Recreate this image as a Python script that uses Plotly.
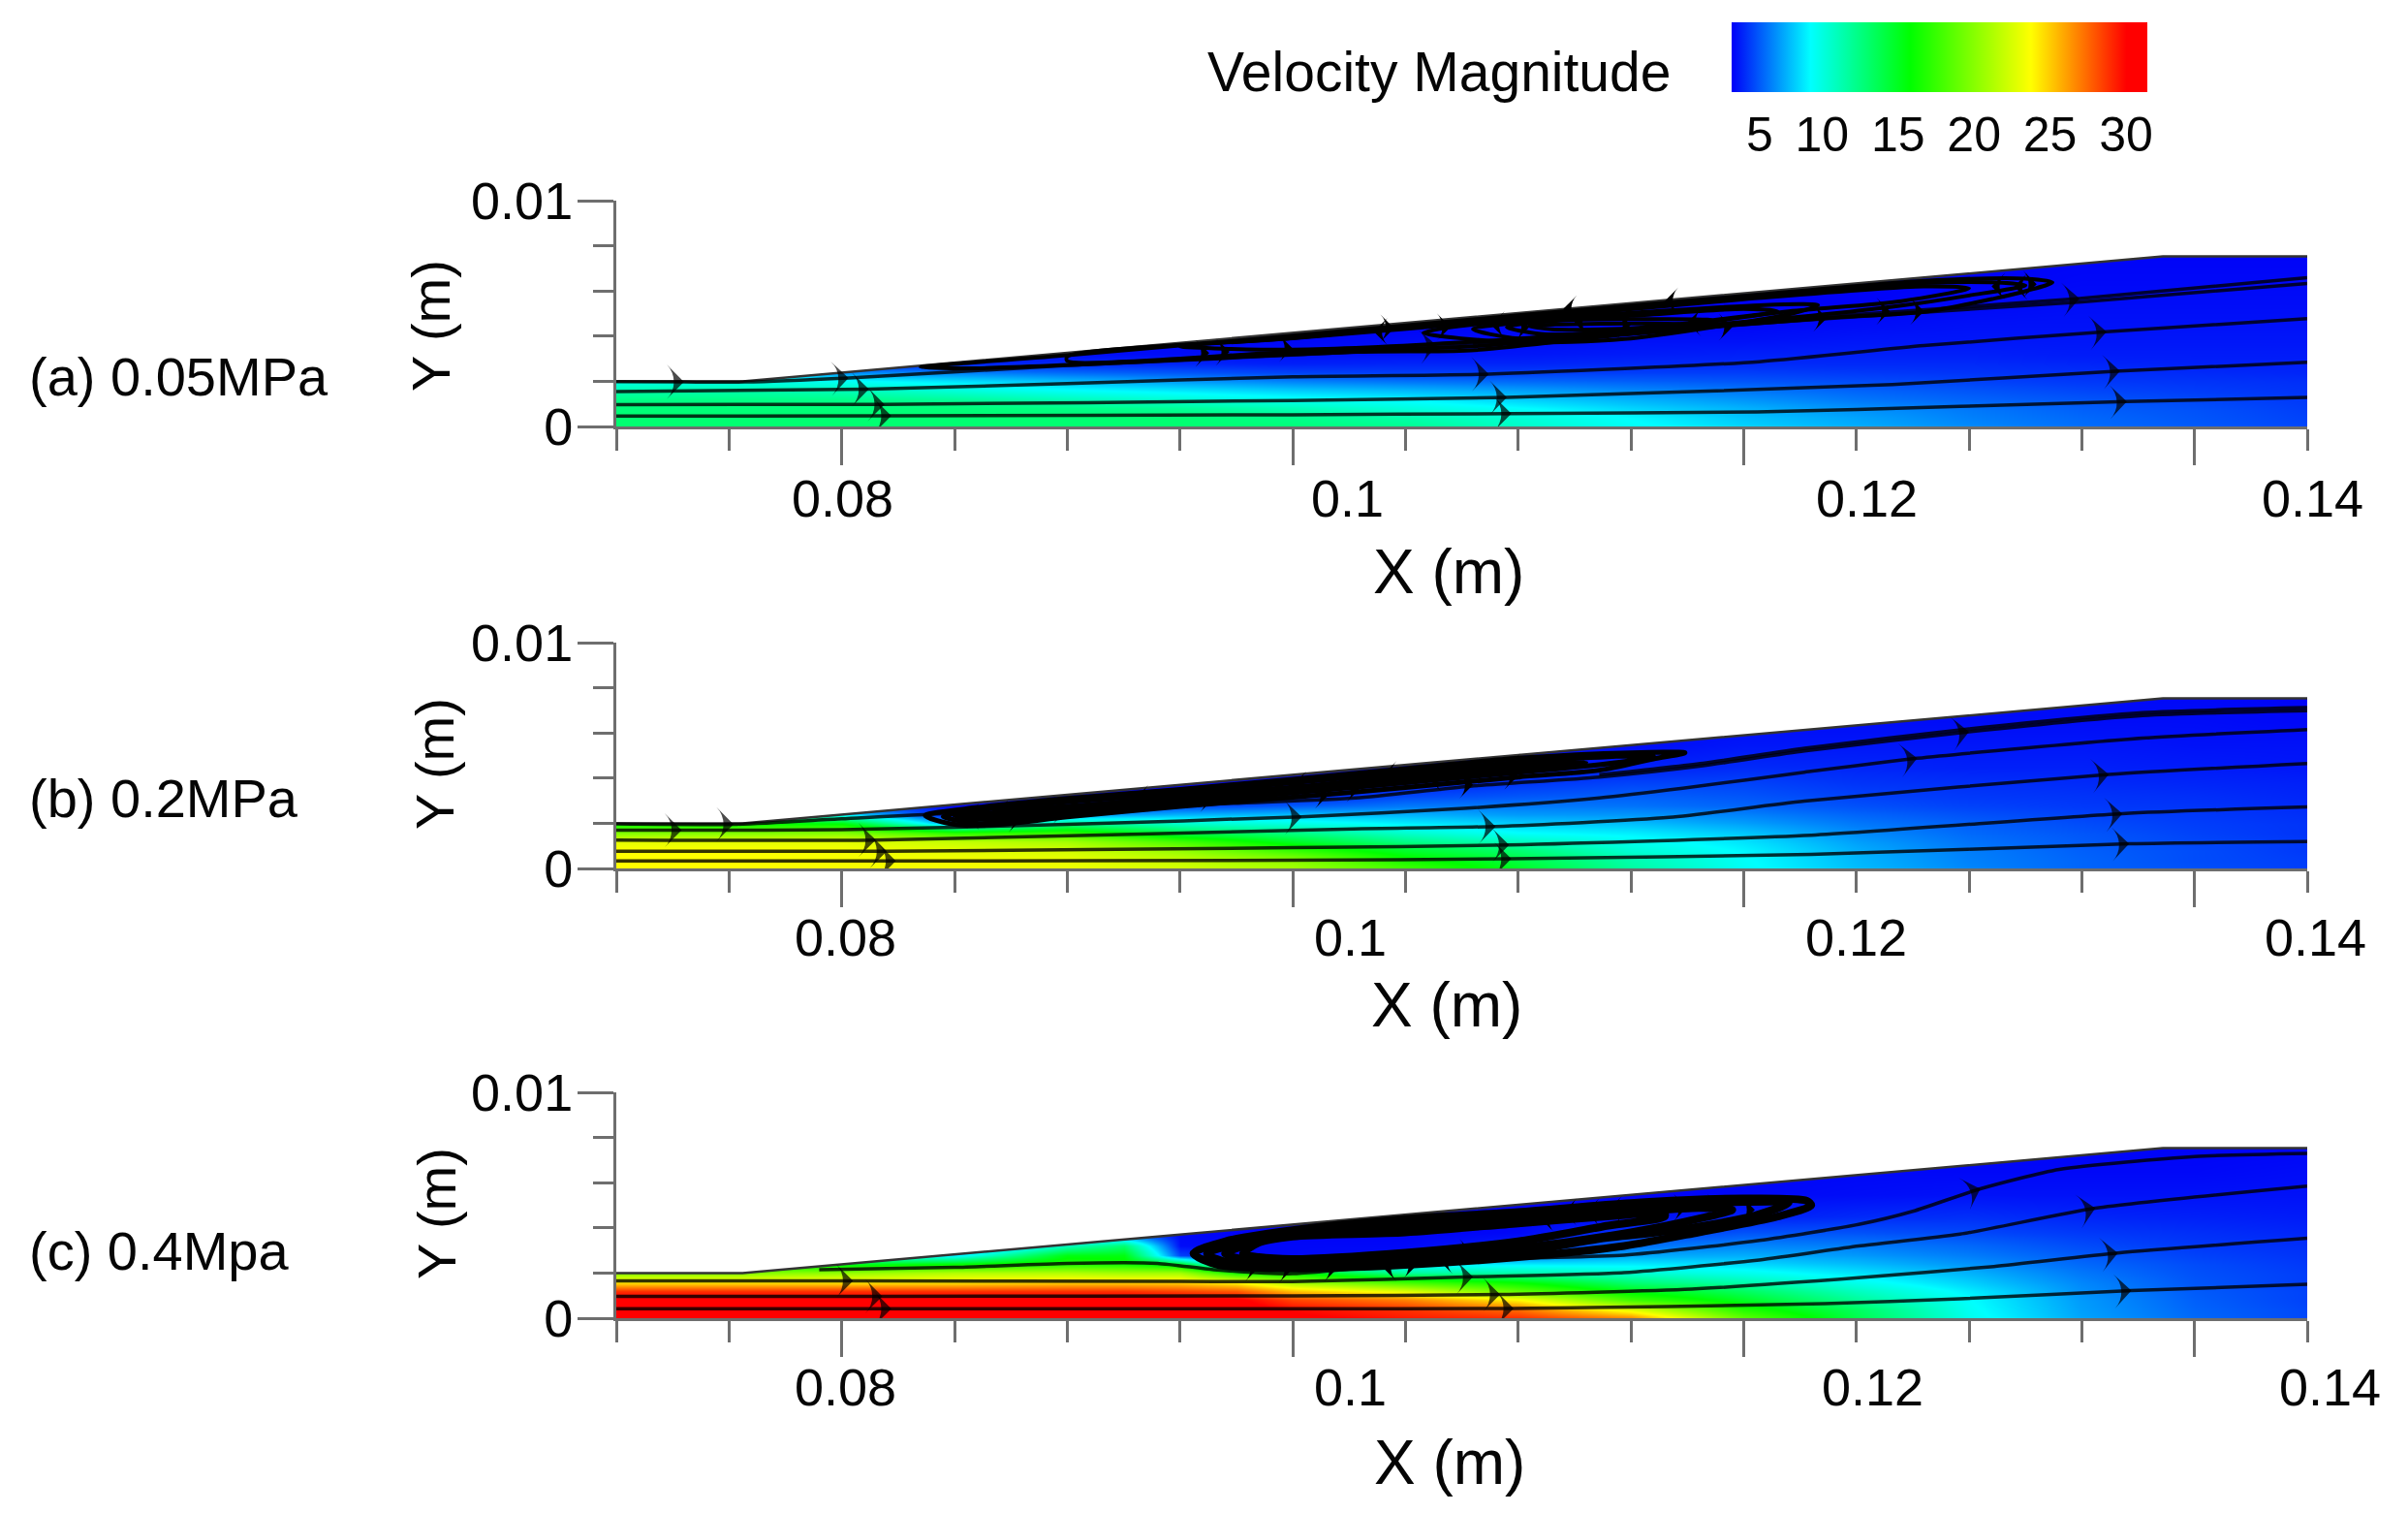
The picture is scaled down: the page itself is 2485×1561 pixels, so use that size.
import plotly.graph_objects as go

W, H = 2485, 1561
FONT = "Liberation Sans"
AXC = "#6e6e6e"

# ---------------------- data ----------------------
WALL_X = [0.07, 0.0756, 0.1386, 0.145]
WALL_Y = [0.002, 0.002, 0.00753, 0.00753]
COVER_X = [0.07, 0.0756, 0.1386, 0.145, 0.146, 0.146, 0.069, 0.069]
COVER_Y = [0.002, 0.002, 0.00753, 0.00753, 0.00753, 0.0099, 0.0099, 0.002]

Y_ST = [0, .0004, .0008, .0012, .0016, .002, .0024, .0028, .0032, .0038, .0045, .0055, .0065, .008]
X_AB = [.07, .0756, .08, .085, .09, .095, .1, .105, .11, .115, .12, .125, .13, .135, .14, .145]
X_C = [.07, .0756, .08, .085, .09, .0925, .095, .0975, .1, .105, .11, .115, .12, .125, .13, .135, .14, .145]

# velocity at each x station, bottom to top
V_A = [
    [12, 12, 11.8, 11.5, 10.5, 9, 7, 4, 3.4, 3.3, 3.2, 3.2, 3.2, 3.2],
    [12, 12, 11.8, 11.5, 10.5, 9, 7, 4, 3.4, 3.3, 3.2, 3.2, 3.2, 3.2],
    [12, 12, 11.8, 11.4, 10.2, 8.6, 6, 3.8, 3.4, 3.3, 3.2, 3.2, 3.2, 3.2],
    [12, 12, 11.8, 11, 9.4, 7.8, 5.8, 3.8, 3.4, 3.3, 3.2, 3.2, 3.2, 3.2],
    [12, 12, 11.5, 10.2, 8.6, 7, 5.3, 4, 3.4, 3.3, 3.2, 3.2, 3.2, 3.2],
    [12, 12, 11, 9.5, 8, 6.3, 4.9, 3.9, 3.4, 3.3, 3.2, 3.2, 3.2, 3.2],
    [11.8, 11.4, 10.2, 8.7, 7.4, 5.8, 4.5, 3.8, 3.5, 3.3, 3.2, 3.2, 3.2, 3.2],
    [11.2, 10.6, 9.2, 8.2, 7, 5.5, 4.4, 3.9, 3.5, 3.4, 3.2, 3.2, 3.2, 3.2],
    [9.8, 9.4, 8.4, 7.4, 6.5, 5.3, 4.4, 3.9, 3.6, 3.4, 3.3, 3.2, 3.2, 3.2],
    [8.6, 8.3, 7.5, 6.8, 6, 5.1, 4.4, 4, 3.7, 3.5, 3.3, 3.2, 3.2, 3.2],
    [7.5, 7.2, 6.8, 6.2, 5.6, 4.9, 4.4, 4, 3.8, 3.5, 3.3, 3.2, 3.2, 3.2],
    [6.7, 6.5, 6.1, 5.6, 5.2, 4.7, 4.3, 4, 3.8, 3.6, 3.4, 3.2, 3.2, 3.2],
    [6, 5.8, 5.6, 5.2, 4.9, 4.5, 4.2, 4, 3.8, 3.6, 3.5, 3.3, 3.2, 3.2],
    [5.4, 5.3, 5.1, 4.9, 4.6, 4.3, 4.1, 3.9, 3.7, 3.6, 3.5, 3.4, 3.3, 3.2],
    [5, 4.9, 4.8, 4.6, 4.4, 4.2, 4, 3.8, 3.7, 3.6, 3.5, 3.4, 3.3, 3.2],
    [4.6, 4.5, 4.4, 4.3, 4.2, 4.1, 3.9, 3.8, 3.7, 3.6, 3.5, 3.4, 3.3, 3.2],
]
V_B = [
    [22.8, 22.8, 22.8, 22, 19, 15, 10, 8, 6, 5, 4, 3.5, 3.3, 3.2],
    [22.8, 22.8, 22.8, 22, 19, 15, 10, 8, 6, 5, 4, 3.5, 3.3, 3.2],
    [22.6, 22.6, 22.6, 22, 19, 14.5, 8, 5, 3.5, 3.3, 3.3, 3.2, 3.2, 3.2],
    [22.5, 22.5, 22, 21, 16, 6, 3.3, 3.3, 3.2, 3.2, 3.2, 3.2, 3.2, 3.2],
    [22.3, 22.2, 21.5, 20, 16.5, 11, 6, 3.6, 3.3, 3.2, 3.2, 3.2, 3.2, 3.2],
    [21.5, 21, 19.5, 17, 13, 9.5, 6.8, 4.5, 3.4, 3.2, 3.2, 3.2, 3.2, 3.2],
    [20, 19.3, 16.5, 14, 11.5, 9, 7, 5, 3.7, 3.3, 3.2, 3.2, 3.2, 3.2],
    [17, 15.5, 13.8, 11.5, 9.6, 8, 6.8, 5.6, 4.6, 3.6, 3.3, 3.2, 3.2, 3.2],
    [14, 13.2, 12, 10, 8.4, 7.3, 6.3, 5.6, 4.9, 4.2, 3.6, 3.3, 3.2, 3.2],
    [10.8, 10.4, 9.4, 8.8, 8, 7, 6.2, 5.5, 5.1, 4.5, 3.8, 3.4, 3.3, 3.2],
    [8.6, 8.5, 8.2, 7.8, 7.2, 6.4, 5.8, 5.2, 4.9, 4.5, 4, 3.6, 3.4, 3.3],
    [7, 6.9, 6.7, 6.4, 6, 5.6, 5.2, 4.8, 4.5, 4.2, 3.9, 3.6, 3.4, 3.3],
    [5.9, 5.8, 5.7, 5.5, 5.3, 5.1, 4.8, 4.5, 4.3, 4.1, 3.8, 3.6, 3.4, 3.3],
    [5.2, 5.2, 5.1, 5, 4.9, 4.7, 4.5, 4.3, 4.2, 4, 3.8, 3.6, 3.4, 3.3],
    [4.8, 4.7, 4.7, 4.6, 4.5, 4.4, 4.3, 4.2, 4.1, 3.9, 3.7, 3.5, 3.4, 3.3],
    [4.4, 4.4, 4.3, 4.3, 4.2, 4.2, 4.1, 4, 3.9, 3.8, 3.6, 3.5, 3.3, 3.2],
]
V_C = [
    [30, 30, 29.8, 28, 23.5, 19, 15, 12, 10, 8, 6, 5, 4, 3.5],
    [30, 30, 29.8, 28, 23.5, 19, 15, 12, 10, 8, 6, 5, 4, 3.5],
    [30, 30, 29.8, 28, 23.5, 19.5, 14, 8, 5, 4, 3.5, 3.3, 3.2, 3.2],
    [30, 30, 29.8, 28, 23.5, 20.5, 15, 8, 4, 3.5, 3.3, 3.2, 3.2, 3.2],
    [30, 30, 29.8, 28, 24, 20.5, 16, 14.5, 10, 3.3, 3.2, 3.2, 3.2, 3.2],
    [30, 30, 29.8, 28, 24, 20, 15.5, 14.5, 12, 3.5, 3.2, 3.2, 3.2, 3.2],
    [30, 30, 29.8, 27.5, 24, 20, 14, 4.5, 3.4, 3.3, 3.2, 3.2, 3.2, 3.2],
    [30, 30, 29.5, 27, 23, 15.5, 6, 3.3, 3.3, 3.2, 3.2, 3.2, 3.2, 3.2],
    [29.5, 29, 27.5, 24.5, 20, 15, 6, 3.3, 3.3, 3.2, 3.2, 3.2, 3.2, 3.2],
    [28.5, 28, 26, 22, 17, 11, 8, 3.4, 3.3, 3.2, 3.2, 3.2, 3.2, 3.2],
    [28, 26.5, 23, 18, 15, 10.5, 8, 5.5, 3.8, 3.3, 3.2, 3.2, 3.2, 3.2],
    [26, 22, 17, 14.5, 12, 9.5, 8, 6.6, 5.4, 4.2, 3.4, 3.2, 3.2, 3.2],
    [18, 16, 14, 12.5, 10.5, 8.8, 7.6, 6.7, 5.9, 4.8, 3.8, 3.3, 3.2, 3.2],
    [13, 12.5, 11, 10, 8.8, 7.8, 7, 6.3, 5.7, 4.8, 4, 3.4, 3.3, 3.2],
    [8.8, 8.6, 8.4, 8, 7.4, 6.8, 6.2, 5.7, 5.3, 4.6, 4.1, 3.5, 3.3, 3.2],
    [6.5, 6.4, 6.3, 6.1, 5.9, 5.6, 5.3, 5, 4.7, 4.3, 3.9, 3.5, 3.3, 3.2],
    [5.3, 5.2, 5.1, 5, 4.9, 4.8, 4.7, 4.5, 4.3, 4.1, 3.8, 3.5, 3.3, 3.2],
    [4.6, 4.6, 4.5, 4.5, 4.4, 4.4, 4.3, 4.2, 4.1, 3.9, 3.7, 3.5, 3.4, 3.2],
]

# through-flow streamlines: x list, y list, x values that carry an arrow
STREAMS_A = [
    ([.07, .0822, .1, .1097, .1206, .1296, .137, .145],
     [.00046, .00047, .00052, .00057, .00064, .00089, .0011, .00129], [.0822, .1097, .137]),
    ([.07, .0819, .1, .1095, .1266, .1367, .145],
     [.00097, .00098, .00115, .00129, .00186, .00246, .00284], [.0819, .1095, .1367]),
    ([.07, .0812, .09, .1, .1087, .1207, .128, .1361, .145],
     [.00155, .00165, .0019, .0022, .00232, .00287, .00358, .0042, .00477], [.0812, .1087, .1361]),
    ([.07, .073, .0757, .0803, .09, .1029, .1064, .1237, .1349, .145],
     [.00198, .00197, .00197, .00215, .0027, .0033, .00358, .00487, .00566, .00659], [.073, .0803, .1064, .1349]),
    ([.108, .1237, .135, .145],
     [.00365, .00478, .00552, .00633], []),
]
STREAMS_B = [
    ([.07, .0824, .1, .1097, .123, .1371, .145],
     [.00033, .00033, .00036, .00043, .00062, .00109, .00119], [.0824, .1097, .1371]),
    ([.07, .082, .1, .1096, .123, .1368, .145],
     [.00076, .00076, .00092, .00104, .00147, .00243, .00272], [.082, .1096, .1368]),
    ([.07, .0815, .1027, .109, .1167, .1227, .1362, .145],
     [.00126, .00126, .00175, .00186, .00226, .00298, .00416, .00465], [.0815, .109, .1362]),
    ([.07, .0729, .08, .09, .1004, .1076, .1136, .1173, .1227, .1277, .1377, .145],
     [.00169, .00169, .00172, .00195, .00229, .00266, .00312, .00355, .00426, .00488, .00577, .00615],
     [.0729, .1004, .1277]),
    ([.07, .0752, .08, .085, .0908, .0963, .1028, .1076, .1136, .1182, .1227, .13, .1377, .145],
     [.00197, .00195, .0022, .00245, .00248, .00284, .00312, .00362, .00405, .00455, .0052, .00605, .00677, .00698],
     [.0752, .13]),
    ([.1136, .1182, .1227, .13, .1377, .145],
     [.00415, .00466, .00532, .00618, .0069, .00712], []),
]
STREAMS_C = [
    ([.07, .0822, .1, .1098, .1236, .1296, .1372, .145],
     [.00042, .00042, .00042, .00043, .00064, .00086, .00122, .0015], [.0822, .1098, .1372]),
    ([.07, .0818, .1, .1092, .1177, .1251, .1311, .1366, .145],
     [.00097, .00097, .00099, .00105, .00129, .00179, .00229, .00289, .00354], [.0818, .1092, .1366]),
    ([.07, .0805, .095, .1, .108, .1147, .1207, .1251, .1296, .1356, .145],
     [.00165, .00165, .00163, .00162, .00183, .00202, .00258, .0032, .00372, .00487, .00585], [.0805, .108, .1356]),
    ([.079, .085, .09, .094, .0965, .1, .105, .11, .1147, .1207, .1251, .1275, .1305, .134, .14, .145],
     [.00215, .00225, .00243, .00243, .00215, .00197, .0024, .00265, .00279, .00344, .00415, .00473, .00573, .00659, .00716, .0073],
     [.1305]),
]

# recirculation loops (closed streamlines)
LOOPS_A = [
    ([.0835, .09, .1, .11, .12, .128, .1325, .1337, .1326, .1311, .1281, .1236, .115, .1079, .1029, .09, .0859, .0835],
     [.00262, .00315, .00402, .00492, .00578, .00645, .00655, .00638, .00602, .00566, .00509, .0048, .0041, .00337, .0033, .00272, .00258, .00262]),
    ([.09, .1, .11, .12, .128, .131, .1325, .13, .127, .123, .115, .108, .1, .09, .09],
     [.0031, .00392, .00482, .0057, .00635, .00638, .00625, .0058, .00535, .0049, .0042, .00355, .0033, .0029, .0031]),
    ([.095, .1, .11, .12, .128, .13, .127, .122, .115, .108, .1, .095],
     [.00355, .0039, .00475, .00563, .0062, .00612, .00555, .0051, .0043, .00375, .0034, .00355]),
    ([.1058, .11, .1147, .1207, .1233, .1222, .1189, .1147, .11, .1058],
     [.00415, .00473, .00501, .00537, .00537, .00501, .00444, .00387, .00372, .00415]),
    ([.108, .11, .115, .12, .1215, .119, .116, .113, .11, .108],
     [.0043, .0046, .0049, .0052, .0051, .0047, .0042, .004, .0039, .0043]),
    ([.1095, .112, .116, .1186, .117, .114, .111, .1095],
     [.0044, .0047, .00475, .0047, .0044, .00415, .0041, .0044]),
    ([.1105, .114, .1175, .115, .1115, .1105],
     [.00445, .00455, .00455, .00435, .0043, .00445]),
]
LOOPS_B = [
    ([.0837, .086, .09, .095, .1, .105, .11, .115, .1174, .116, .1136, .11, .105, .1, .095, .09, .087, .085, .0837],
     [.00234, .0027, .0031, .0035, .00395, .00442, .00488, .00512, .00512, .00485, .00435, .00405, .00358, .00315, .00275, .00228, .00195, .00195, .00234]),
    ([.085, .087, .09, .095, .1, .105, .11, .114, .116, .1145, .11, .105, .1, .095, .09, .087, .085],
     [.00235, .0027, .00295, .00335, .0038, .00425, .0047, .00495, .00498, .0047, .00425, .0038, .00335, .0029, .00243, .00215, .00235]),
    ([.086, .088, .092, .097, .1, .105, .11, .113, .11, .105, .1, .095, .09, .087, .086],
     [.00235, .0026, .0029, .0034, .0036, .0041, .00455, .0047, .00438, .00395, .0035, .00305, .00255, .00222, .00235]),
    ([.0865, .09, .095, .1, .105, .1085, .105, .1, .095, .09, .0865],
     [.0023, .0027, .00315, .00345, .0039, .00425, .00382, .0034, .00295, .0025, .0023]),
    ([.0845, .086, .088, .0895, .088, .086, .0845],
     [.0023, .0026, .0027, .0026, .0021, .0020, .0023]),
    ([.0855, .087, .0885, .087, .0855],
     [.0023, .00245, .0024, .00215, .0023]),
]
LOOPS_C = [
    ([.0956, .097, .1, .105, .11, .115, .12, .1228, .123, .1215, .118, .1147, .11, .105, .1, .0967, .0956],
     [.00286, .0034, .0039, .0044, .0047, .0051, .0053, .0052, .005, .0045, .0038, .0032, .0027, .00236, .0022, .00236, .00286]),
    ([.0962, .098, .1, .105, .11, .115, .12, .122, .1205, .117, .1135, .11, .105, .1, .0972, .0962],
     [.00285, .0034, .0038, .0042, .00455, .0049, .00515, .0051, .00455, .0039, .0035, .0029, .0025, .00235, .00245, .00285]),
    ([.097, .0985, .1, .105, .11, .115, .118, .1195, .118, .115, .11, .105, .1, .098, .097],
     [.00285, .0034, .0037, .004, .0044, .0047, .00488, .0048, .0044, .0038, .0031, .0027, .0025, .00258, .00285]),
    ([.0978, .0985, .1, .105, .11, .1145, .1165, .1165, .114, .11, .105, .1, .0985, .0978],
     [.00285, .00335, .00362, .0038, .0042, .00455, .00465, .0045, .0041, .0034, .0029, .00262, .0027, .00285]),
]

# arrowheads riding on the recirculation loops (x, y, direction in degrees)
VA_X = [.0963, .0972, .1, .1036, .1045, .107, .1088, .1105, .1125, .115, .1175, .1195, .1237, .1265, .128, .131, .132, .133, .112, .1165]
VA_Y = [.00325, .0033, .00345, .0042, .00435, .0044, .0045, .0044, .0046, .0045, .0046, .0044, .0048, .0051, .0051, .0062, .0062, .0063, .0052, .00555]
VA_D = [90, 90, 90, 270, 90, 90, 270, 90, 270, 90, 270, 90, 90, 90, 90, 270, 270, 90, 270, 270]
VB_X = [.0855, .0868, .088, .09, .093, .0965, .1, .103, .106, .108, .1095, .1016, .11, .104]
VB_Y = [.0023, .00245, .0022, .0026, .0031, .0031, .0037, .00355, .004, .0037, .0045, .00326, .0041, .00415]
VB_D = [270, 270, 90, 90, 270, 90, 270, 90, 270, 90, 270, 90, 90, 270]
VC_X = [.0985, .1, .102, .104, .1055, .1065, .108, .111, .112, .113, .114, .116, .1175, .119, .1205]
VC_Y = [.00224, .00218, .00222, .00224, .00234, .00255, .0029, .0044, .0047, .0047, .0048, .0047, .0049, .0049, .0048]
VC_D = [90, 90, 90, 270, 90, 270, 90, 270, 270, 270, 270, 90, 90, 90, 90]
LOOP_WIDTHS = [4, 5, 8]

# colour bar: the labels sit where the picture prints them
CB_LABELS = ["5", "10", "15", "20", "25", "30"]
CB_LABEL_AT = [5, 9.1, 14.1, 19.1, 24.1, 29.1]
V_MIN, V_MAX = 3.15, 30.5

# labels
PANEL_NAMES = ["(a) 0.05MPa", "(b) 0.2MPa", "(c) 0.4Mpa"]
X_MAJOR = [.08, .1, .12, .14]
X_MAJOR_TEXT = ["0.08", "0.1", "0.12", "0.14"]
X_MINOR = [.07, .075, .085, .09, .095, .105, .11, .115, .125, .13, .135, .145]
Y_MAJOR = [0, .01]
Y_MAJOR_TEXT = ["0", "0.01"]
Y_MINOR = [.002, .004, .006, .008]

# ---------------------- layout in pixels ----------------------
X_L, X_R = 636, 2381
PANELS = [
    dict(top=207, bot=440, lab_y=388, xt=(1495, 590), yt=(445, 336), tl_y=514, tl_x=(869, 1390, 1927, 2386)),
    dict(top=663, bot=896, lab_y=823, xt=(1493, 1037), yt=(448, 788), tl_y=967, tl_x=(872, 1393, 1915, 2389)),
    dict(top=1127, bot=1360, lab_y=1290, xt=(1496, 1509), yt=(450, 1252), tl_y=1431, tl_x=(872, 1393, 1932, 2404)),
]

COLORSCALE = [[0, "#0000f8"], [.19, "#00ffff"], [.43, "#00ff00"], [.72, "#ffff00"], [.95, "#ff0000"], [1, "#ff0000"]]
TXT = "#050505"


def px(x):
    return x / W


def py(y):
    return 1 - y / H


def ann(x, y, text, size, angle=0, anchor="center"):
    return dict(x=px(x), y=py(y), xref="paper", yref="paper", text=text, showarrow=False,
                xanchor=anchor, yanchor="middle", textangle=angle,
                font=dict(family=FONT, size=size, color=TXT))


fig = go.Figure()
annotations = []
fields = [(X_AB, V_A, STREAMS_A, LOOPS_A, VA_X, VA_Y, VA_D),
          (X_AB, V_B, STREAMS_B, LOOPS_B, VB_X, VB_Y, VB_D),
          (X_C, V_C, STREAMS_C, LOOPS_C, VC_X, VC_Y, VC_D)]

for i, (p, fd) in enumerate(zip(PANELS, fields)):
    xs, cols, streams, loops, ax_, ay_, ad_ = fd
    xa, ya = f"x{i + 1}", f"y{i + 1}"
    z_rows = [list(r) for r in zip(*cols)]
    fig.add_trace(go.Heatmap(x=xs, y=Y_ST, z=z_rows, coloraxis="coloraxis", zsmooth="best",
                             xaxis=xa, yaxis=ya, hoverinfo="skip"))
    fig.add_trace(go.Scatter(x=COVER_X, y=COVER_Y, mode="lines", fill="toself", fillcolor="white",
                             line=dict(width=0), xaxis=xa, yaxis=ya, hoverinfo="skip"))
    fig.add_trace(go.Scatter(x=WALL_X, y=WALL_Y, mode="lines", line=dict(color="#333333", width=2.5),
                             xaxis=xa, yaxis=ya, hoverinfo="skip"))
    for lx, ly in loops:
        fig.add_trace(go.Scatter(x=lx, y=ly, mode="lines", xaxis=xa, yaxis=ya, hoverinfo="skip",
                                 line=dict(color="#000000", width=LOOP_WIDTHS[i], shape="spline", smoothing=0.8)))
    for sx, sy, arrows in streams:
        sizes = [25 if v in arrows else 0 for v in sx]
        fig.add_trace(go.Scatter(x=sx, y=sy, mode="lines+markers", xaxis=xa, yaxis=ya, hoverinfo="skip",
                                 line=dict(color="rgba(0,0,0,0.8)", width=3.5, shape="spline", smoothing=0.6),
                                 marker=dict(symbol="arrow-wide", angleref="previous", size=sizes,
                                             color="#000000", line=dict(width=0))))
    fig.add_trace(go.Scatter(x=ax_, y=ay_, mode="markers", xaxis=xa, yaxis=ya, hoverinfo="skip",
                             marker=dict(symbol="arrow-wide", size=20, angle=ad_, color="#000000",
                                         line=dict(width=0))))

    xkey, ykey = ("xaxis", "yaxis") if i == 0 else (f"xaxis{i + 1}", f"yaxis{i + 1}")
    fig.update_layout({
        xkey: dict(domain=[px(X_L), px(X_R)], range=[.07, .145], anchor=ya, showgrid=False, zeroline=False,
                   showline=True, linecolor=AXC, linewidth=3, ticks="outside", ticklen=37, tickwidth=2.5,
                   tickcolor=AXC, tickmode="array", tickvals=X_MAJOR, ticktext=X_MAJOR_TEXT,
                   showticklabels=False,
                   minor=dict(tickmode="array", tickvals=X_MINOR, ticks="outside", ticklen=22,
                              tickwidth=2.5, tickcolor=AXC, showgrid=False)),
        ykey: dict(domain=[py(p["bot"]), py(p["top"])], range=[0, .01], anchor=xa, showgrid=False, zeroline=False,
                   showline=True, linecolor=AXC, linewidth=3, ticks="outside", ticklen=37, tickwidth=2.5,
                   tickcolor=AXC, tickmode="array", tickvals=Y_MAJOR, ticktext=Y_MAJOR_TEXT,
                   ticklabelstandoff=-6,
                   tickfont=dict(family=FONT, size=54, color=TXT),
                   minor=dict(tickmode="array", tickvals=Y_MINOR, ticks="outside", ticklen=21,
                              tickwidth=2.5, tickcolor=AXC, showgrid=False)),
    })
    annotations.append(ann(28, p["lab_y"], PANEL_NAMES[i], 56, anchor="left"))
    annotations.append(ann(p["xt"][0], p["xt"][1], "X (m)", 64))
    annotations.append(ann(p["yt"][0], p["yt"][1], "Y (m)", 56, -90))
    for tx, tt in zip(p["tl_x"], X_MAJOR_TEXT):
        annotations.append(ann(tx, p["tl_y"], tt, 54))

annotations.append(ann(1485, 74, "Velocity Magnitude", 57))

fig.update_layout(
    width=W, height=H, margin=dict(l=0, r=0, t=0, b=0, autoexpand=False), autosize=False,
    paper_bgcolor="white", plot_bgcolor="rgba(0,0,0,0)", showlegend=False,
    annotations=annotations,
    coloraxis=dict(
        colorscale=COLORSCALE, cmin=V_MIN, cmax=V_MAX,
        colorbar=dict(orientation="h", thicknessmode="pixels", thickness=72, lenmode="pixels", len=429,
                      x=px(2001.5), xanchor="center", y=py(23), yanchor="top", xpad=0, ypad=0,
                      outlinewidth=0, borderwidth=0, tickmode="array", tickvals=CB_LABEL_AT,
                      ticktext=CB_LABELS, ticks="", ticklen=0,
                      tickfont=dict(family=FONT, size=50, color=TXT)),
    ),
)

fig.write_html("out.html", config={"displayModeBar": False},
               post_script="document.body.style.margin='0';")
